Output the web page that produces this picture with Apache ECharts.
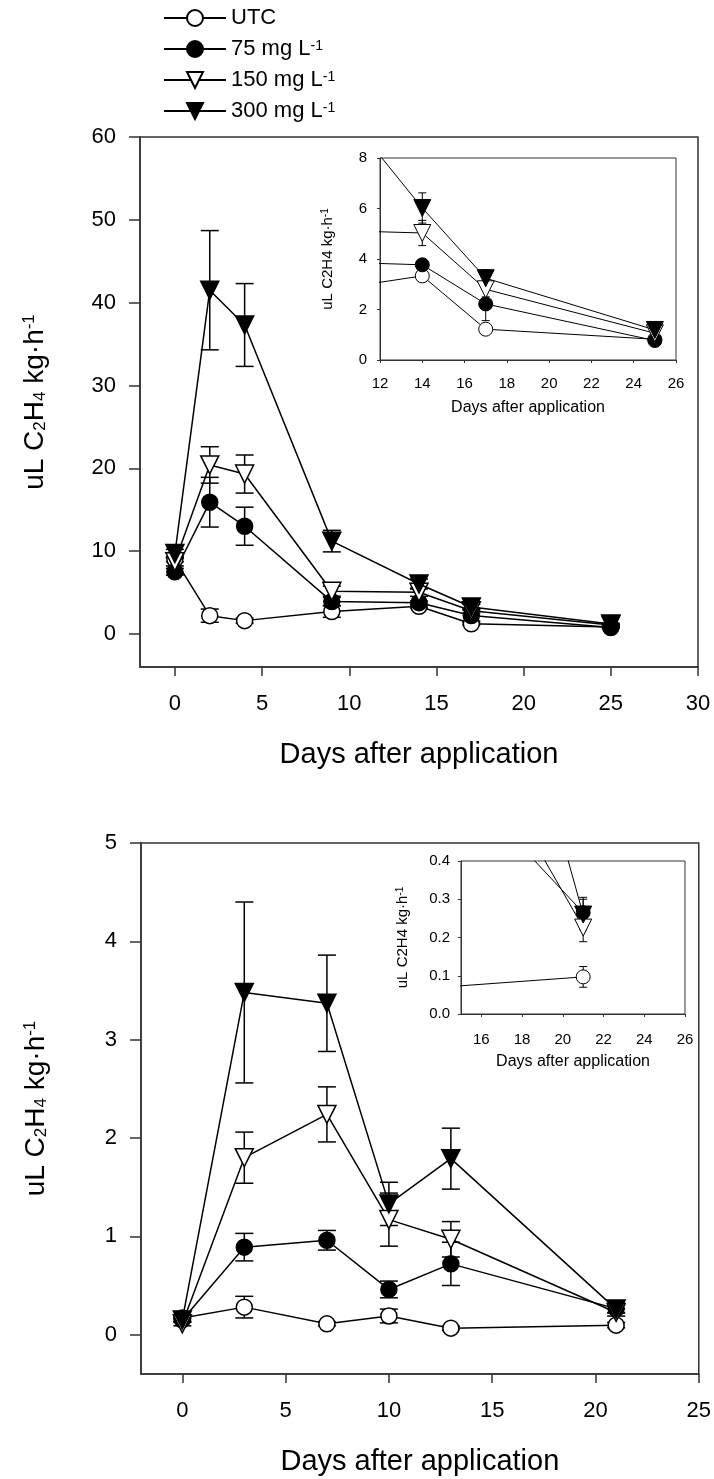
<!DOCTYPE html>
<html>
<head>
<meta charset="utf-8">
<script src="https://cdn.jsdelivr.net/npm/echarts@6/dist/echarts.min.js"></script>
<style>
html,body{margin:0;padding:0;background:#fff}
#c{width:714px;height:1479px}
</style>
</head>
<body>
<div id="c"></div>
<script>
// ---------- data ----------
const seriesNames = ['UTC', '75 mg L-1', '150 mg L-1', '300 mg L-1'];

const daysTop = [0, 2, 4, 9, 14, 17, 25];
const utcTop = [9.0, 2.2, 1.6, 2.7, 3.33, 1.22, 0.82];
const utcTopErr = [0.3, 0.8, 0.3, 0.7, 0.2, 0.15, 0.08];
const mg75Top = [7.5, 15.9, 13.0, 3.9, 3.77, 2.22, 0.77];
const mg75TopErr = [0.4, 3.0, 2.3, 0.5, 0.2, 0.66, 0.08];
const mg150Top = [8.7, 20.4, 19.3, 5.15, 5.03, 2.8, 1.06];
const mg150TopErr = [0.5, 2.2, 2.3, 0.6, 0.5, 0.3, 0.1];
const mg300Top = [9.7, 41.5, 37.3, 11.2, 6.02, 3.24, 1.19];
const mg300TopErr = [0.5, 7.2, 5.0, 1.3, 0.6, 0.33, 0.1];

const daysBottom = [0, 3, 7, 10, 13, 21];
const utcBottom = [0.17, 0.28, 0.11, 0.19, 0.066, 0.097];
const utcBottomErr = [0.02, 0.11, 0.02, 0.07, 0.02, 0.027];
const mg75Bottom = [0.15, 0.89, 0.96, 0.46, 0.72, 0.265];
const mg75BottomErr = [0.02, 0.14, 0.1, 0.085, 0.22, 0.04];
const mg150Bottom = [0.11, 1.80, 2.24, 1.17, 0.97, 0.226];
const mg150BottomErr = [0.02, 0.26, 0.28, 0.27, 0.18, 0.037];
const mg300Bottom = [0.15, 3.48, 3.37, 1.33, 1.79, 0.26];
const mg300BottomErr = [0.02, 0.92, 0.49, 0.22, 0.31, 0.04];

const xTicksTop = [0, 5, 10, 15, 20, 25, 30];
const yTicksTop = [0, 10, 20, 30, 40, 50, 60];
const xTicksTopInset = [12, 14, 16, 18, 20, 22, 24, 26];
const yTicksTopInset = [0, 2, 4, 6, 8];
const xTicksBottom = [0, 5, 10, 15, 20, 25];
const yTicksBottom = [0, 1, 2, 3, 4, 5];
const xTicksBottomInset = [16, 18, 20, 22, 24, 26];
const yTicksBottomInset = [0, 0.1, 0.2, 0.3, 0.4];

// ---------- styles ----------
const FONT = 'Liberation Sans, Arial, sans-serif';
const AX = '#333';
const markers = [
  { symbol: 'circle', fill: '#fff', rotate: 0 },
  { symbol: 'circle', fill: '#000', rotate: 0 },
  { symbol: 'triangle', fill: '#fff', rotate: 180 },
  { symbol: 'triangle', fill: '#000', rotate: 180 }
];

const topVals = [utcTop, mg75Top, mg150Top, mg300Top];
const topErrs = [utcTopErr, mg75TopErr, mg150TopErr, mg300TopErr];
const botVals = [utcBottom, mg75Bottom, mg150Bottom, mg300Bottom];
const botErrs = [utcBottomErr, mg75BottomErr, mg150BottomErr, mg300BottomErr];

const richMain = {
  t: { fontSize: 28, lineHeight: 28, fontFamily: FONT, color: '#000' },
  b: { fontSize: 17, lineHeight: 20, verticalAlign: 'bottom', fontFamily: FONT, color: '#000' },
  p: { fontSize: 17, lineHeight: 2, verticalAlign: 'top', fontFamily: FONT, color: '#000' }
};
const richInset = {
  t: { fontSize: 15, lineHeight: 15, fontFamily: FONT, color: '#000' },
  p: { fontSize: 10, lineHeight: 2, verticalAlign: 'top', fontFamily: FONT, color: '#000' }
};
const mainYName = '{t|uL C}{b|2}{t|H}{b|4}{t| kg·h}{p|-1}';
const insetYName = '{t|uL C2H4 kg·h}{p|-1}';

function errRender(cap, lw) {
  return function (params, api) {
    const x = api.value(0), y = api.value(1), e = api.value(2);
    const cs = params.coordSys;
    const c = api.coord([x, y]);
    if (c[0] < cs.x - 1 || c[0] > cs.x + cs.width + 1) return null;
    const t = api.coord([x, y + e])[1];
    const b = api.coord([x, y - e])[1];
    const top = cs.y, bottom = cs.y + cs.height;
    const children = [];
    const y1 = Math.max(t, top), y2 = Math.min(b, bottom);
    if (y1 < y2) children.push({ type: 'line', shape: { x1: c[0], y1: y1, x2: c[0], y2: y2 }, style: { stroke: '#000', lineWidth: lw } });
    [t, b].forEach(function (yy) {
      if (yy >= top - 0.5 && yy <= bottom + 0.5) children.push({ type: 'line', shape: { x1: c[0] - cap, y1: yy, x2: c[0] + cap, y2: yy }, style: { stroke: '#000', lineWidth: lw } });
    });
    return { type: 'group', children: children };
  };
}

function lineSeries(ax, days, vals, k, cSize, tSize, lw, bw) {
  const m = markers[k];
  return {
    type: 'line', name: seriesNames[k], xAxisIndex: ax, yAxisIndex: ax,
    data: days.map(function (d, i) { return [d, vals[i]]; }),
    symbol: m.symbol, symbolRotate: m.rotate,
    symbolSize: m.symbol === 'circle' ? cSize : tSize,
    showAllSymbol: true, clip: true, z: 3 + k,
    itemStyle: { color: m.fill, borderColor: '#000', borderWidth: bw },
    lineStyle: { color: '#000', width: lw },
    emphasis: { disabled: true }, animation: false
  };
}
function errSeries(ax, days, vals, errs, k, cap, lw) {
  return {
    type: 'custom', name: seriesNames[k] + ' error', xAxisIndex: ax, yAxisIndex: ax,
    data: days.map(function (d, i) { return [d, vals[i], errs[i]]; }),
    encode: { x: 0, y: 1 }, renderItem: errRender(cap, lw), z: 2, silent: true, animation: false
  };
}

function xAxisMain(grid, min, max, ticks) {
  return {
    type: 'value', gridIndex: grid, min: min, max: max,
    axisLine: { onZero: false, lineStyle: { color: AX, width: 1.5 } },
    axisTick: { customValues: ticks, length: 9, lineStyle: { color: AX, width: 1.5 } },
    axisLabel: { customValues: ticks, fontSize: 22, color: '#000', fontFamily: FONT, margin: 26 },
    splitLine: { show: false },
    name: 'Days after application', nameLocation: 'middle', nameGap: 73,
    nameTextStyle: { fontSize: 29, color: '#000', fontFamily: FONT }
  };
}
function yAxisMain(grid, min, max, ticks) {
  return {
    type: 'value', gridIndex: grid, min: min, max: max,
    axisLine: { onZero: false, lineStyle: { color: AX, width: 1.5 } },
    axisTick: { customValues: ticks, length: 11, lineStyle: { color: AX, width: 1.5 } },
    axisLabel: { customValues: ticks, fontSize: 22, color: '#000', fontFamily: FONT, margin: 24 },
    splitLine: { show: false },
    name: mainYName, nameLocation: 'middle', nameGap: 91,
    nameTextStyle: { rich: richMain }
  };
}
function xAxisInset(grid, min, max, ticks, margin, gap) {
  return {
    type: 'value', gridIndex: grid, min: min, max: max,
    axisLine: { onZero: false, lineStyle: { color: AX, width: 1 } },
    axisTick: { customValues: ticks, length: 3, lineStyle: { color: AX, width: 1 } },
    axisLabel: { customValues: ticks, fontSize: 15, color: '#000', fontFamily: FONT, margin: margin },
    splitLine: { show: false },
    name: 'Days after application', nameLocation: 'middle', nameGap: gap,
    nameTextStyle: { fontSize: 16, color: '#000', fontFamily: FONT }
  };
}
function yAxisInset(grid, min, max, ticks, margin, gap, fmt) {
  return {
    type: 'value', gridIndex: grid, min: min, max: max,
    axisLine: { onZero: false, lineStyle: { color: AX, width: 1 } },
    axisTick: { customValues: ticks, length: 3, lineStyle: { color: AX, width: 1 } },
    axisLabel: { customValues: ticks, fontSize: 15, color: '#000', fontFamily: FONT, margin: margin, formatter: fmt },
    splitLine: { show: false },
    name: insetYName, nameLocation: 'middle', nameGap: gap,
    nameTextStyle: { rich: richInset }
  };
}

const series = [];
for (let k = 0; k < 4; k++) {
  series.push(lineSeries(0, daysTop, topVals[k], k, 16, 18, 1.5, 1.5));
  series.push(errSeries(0, daysTop, topVals[k], topErrs[k], k, 9, 1.5));
}
for (let k = 0; k < 4; k++) {
  series.push(lineSeries(1, daysTop, topVals[k], k, 14, 17, 1, 1));
  series.push(errSeries(1, daysTop, topVals[k], topErrs[k], k, 4, 1));
}
for (let k = 0; k < 4; k++) {
  series.push(lineSeries(2, daysBottom, botVals[k], k, 16, 18, 1.5, 1.5));
  series.push(errSeries(2, daysBottom, botVals[k], botErrs[k], k, 9, 1.5));
}
for (let k = 0; k < 4; k++) {
  series.push(lineSeries(3, daysBottom, botVals[k], k, 14, 17, 1, 1));
  series.push(errSeries(3, daysBottom, botVals[k], botErrs[k], k, 4, 1));
}

const gridBorder = { show: true, borderColor: AX, borderWidth: 1.5, backgroundColor: 'transparent', containLabel: false };
const option = {
  animation: false,
  backgroundColor: '#fff',
  textStyle: { fontFamily: FONT },
  legend: {
    data: seriesNames, orient: 'vertical', left: 158, top: 2,
    itemWidth: 62, itemHeight: 20, itemGap: 9, selectedMode: false,
    textStyle: { fontSize: 22, color: '#000', fontFamily: FONT,
      rich: {
        t: { fontSize: 22, lineHeight: 20, fontFamily: FONT, color: '#000' },
        s: { fontSize: 14, lineHeight: 3, verticalAlign: 'top', fontFamily: FONT, color: '#000' }
      } },
    formatter: function (n) {
      if (n.slice(-3) === 'L-1') return '{t|' + n.slice(0, -2) + '}{s|-1}';
      return '{t|' + n + '}';
    }
  },
  grid: [
    Object.assign({ left: 140, top: 137, width: 558, height: 530 }, gridBorder),
    Object.assign({ left: 380, top: 158, width: 296, height: 202 }, gridBorder, { borderWidth: 1 }),
    Object.assign({ left: 141, top: 843, width: 558, height: 531 }, gridBorder),
    Object.assign({ left: 461, top: 861, width: 224, height: 153 }, gridBorder, { borderWidth: 1 })
  ],
  xAxis: [
    xAxisMain(0, -2, 30, xTicksTop),
    xAxisInset(1, 12, 26, xTicksTopInset, 16, 40),
    xAxisMain(2, -2, 25, xTicksBottom),
    xAxisInset(3, 15, 26, xTicksBottomInset, 18, 40)
  ],
  yAxis: [
    yAxisMain(0, -4, 60, yTicksTop),
    yAxisInset(1, 0, 8, yTicksTopInset, 13, 45, function (v) { return String(v); }),
    yAxisMain(2, -0.4, 5, yTicksBottom),
    yAxisInset(3, 0, 0.4, yTicksBottomInset, 11, 51, function (v) { return v.toFixed(1); })
  ],
  series: series
};

const chart = echarts.init(document.getElementById('c'), null, { renderer: 'canvas' });
chart.setOption(option);
</script>
</body>
</html>
